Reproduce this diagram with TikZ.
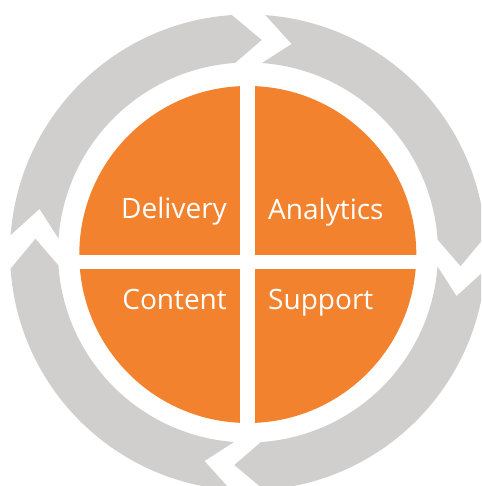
\documentclass[tikz,border=0pt]{standalone}
\usepackage{fontspec}
\setmainfont{Open Sans}
\definecolor{ringgray}{RGB}{208,207,205}
\definecolor{quadorange}{RGB}{243,130,46}
\begin{document}
\begin{tikzpicture}[x=1pt,y=1pt,
  lbl/.style={text=white, font=\fontsize{28}{34}\selectfont, inner sep=0pt},
  ringpiece/.style={fill=ringgray},
  quad/.style={fill=quadorange}]
\useasboundingbox (0,0) rectangle (481,486);
\clip (0,0) rectangle (481,486);
% gray cycle arrows
\begin{scope}[shift={(248,233.5)}]
\foreach \k in {0,1,2,3} {
  \pgfmathsetmacro\as{85.8-90*\k}
  \pgfmathsetmacro\an{78.2-90*\k}
  \pgfmathsetmacro\ae{3.9-90*\k}
  \pgfmathsetmacro\at{-3.7-90*\k}
  \path[ringpiece] (\as:238) arc[start angle=\as, end angle=\ae, radius=238]
    -- (\at:213) -- (\ae:190) arc[start angle=\ae, end angle=\as, radius=190]
    -- (\an:213) -- cycle;
}
\end{scope}
% orange quadrants
\path[quad] (247.8,231.5) circle (168.5);
\fill[white] (240,60) rectangle (255,403);
\fill[white] (76,231) rectangle (420,217);
% labels
\node[lbl, anchor=base east] (delivery) at (227,267) {Delivery};
\node[lbl, anchor=base west] (analytics) at (268,266) {Analytics};
\node[lbl, anchor=base east] (content) at (227,176) {Content};
\node[lbl, anchor=base west] (support) at (268,176) {Support};
\end{tikzpicture}
\end{document}
